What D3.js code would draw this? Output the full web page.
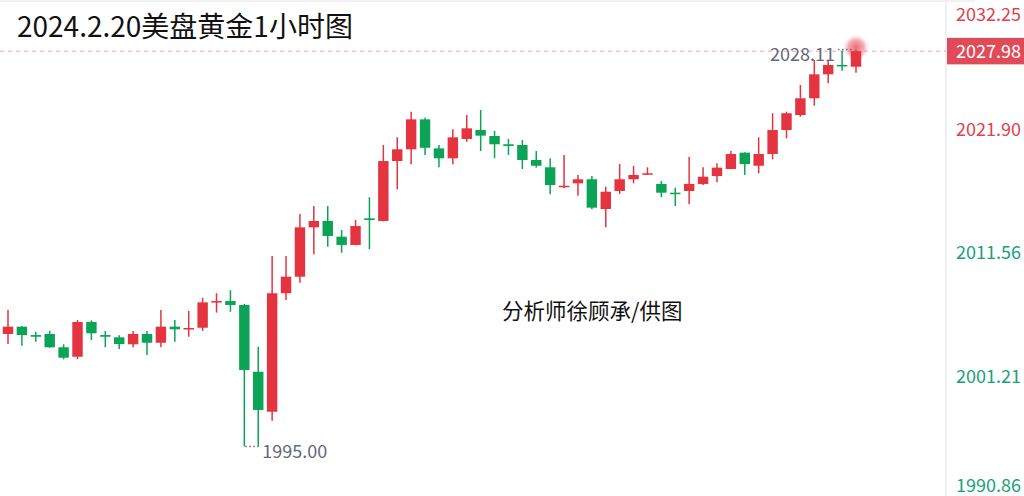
<!DOCTYPE html>
<html><head><meta charset="utf-8">
<script src="https://cdn.jsdelivr.net/npm/d3@7/dist/d3.min.js"></script>
<style>
html,body{margin:0;padding:0;background:#fff;overflow:hidden;}
svg{display:block;}
</style></head>
<body>
<svg id="chart" width="1024" height="496"></svg>
<script>
// ---- Data (1-hour candles) ----
const opens  = [2003.71,2004.38,2004.99,2004.29,2004.38,2003.27,2002.48,2005.38,2004.29,2004.10,2003.52,2004.38,2003.65,2004.99,2004.77,2004.90,2007.00,2007.13,2006.80,2001.23,1997.89,2007.78,2009.16,2013.28,2013.81,2012.50,2011.81,2014.03,2013.81,2018.81,2019.79,2022.29,2019.87,2019.04,2020.65,2021.40,2020.90,2020.21,2020.15,2018.90,2018.29,2016.65,2016.95,2017.29,2014.81,2016.31,2017.29,2017.67,2016.90,2016.17,2016.31,2016.90,2017.56,2018.15,2019.51,2018.42,2019.40,2021.40,2022.65,2024.05,2026.05,2026.83,2026.68];
const highs  = [2004.96,2006.38,2005.05,2004.57,2004.63,2003.52,2005.55,2005.52,2004.63,2004.27,2004.63,2004.63,2006.38,2005.55,2006.30,2007.41,2007.78,2008.03,2006.88,2003.32,2010.89,2010.89,2014.39,2015.06,2015.06,2013.06,2013.89,2015.79,2020.15,2020.79,2022.93,2022.43,2020.15,2021.46,2022.65,2023.07,2021.32,2020.65,2020.57,2019.65,2019.04,2019.32,2017.65,2017.56,2016.67,2018.56,2018.40,2018.29,2017.15,2016.59,2019.17,2018.29,2018.62,2019.65,2019.55,2020.79,2022.80,2022.93,2025.16,2027.24,2027.18,2028.02,2028.11];
const lows   = [2003.46,2003.54,2003.40,2003.74,2003.22,2002.27,2002.27,2003.88,2003.27,2003.13,2003.27,2002.63,2003.27,2003.74,2004.15,2004.63,2006.16,2006.24,1995.00,1995.05,1997.14,2007.22,2008.66,2011.03,2011.66,2011.16,2011.78,2011.45,2013.78,2016.45,2018.54,2019.32,2018.29,2018.54,2020.43,2019.65,2019.04,2019.32,2018.15,2018.26,2016.04,2016.54,2015.92,2014.78,2013.28,2016.06,2016.95,2017.65,2015.79,2015.06,2015.20,2016.81,2017.04,2018.12,2017.65,2017.79,2018.96,2020.71,2022.51,2023.43,2025.30,2026.35,2026.18];
const closes = [2004.63,2004.99,2004.29,2004.15,2003.27,2002.40,2005.38,2004.44,2004.15,2003.54,2004.38,2003.65,2004.99,2004.77,2004.88,2007.02,2007.13,2006.80,2001.37,1998.04,2007.78,2009.16,2013.28,2013.81,2012.56,2011.81,2013.39,2013.89,2018.81,2019.79,2022.29,2019.92,2019.04,2020.79,2021.54,2020.93,2020.21,2020.07,2018.90,2018.42,2016.81,2016.75,2017.29,2014.92,2016.25,2017.29,2017.65,2017.79,2016.17,2016.06,2016.90,2017.50,2018.26,2019.40,2018.56,2019.40,2021.40,2022.80,2024.05,2026.05,2026.83,2026.74,2027.98];
const axisTicks = [2032.25, 2021.90, 2011.56, 2001.21, 1990.86];
const lastPrice = 2027.98;
const refPrice = 2016.50;   // axis labels above are red, below are green
const titleText = "2024.2.20美盘黄金1小时图";
const watermark = "分析师徐顾承/供图";

// ---- Layout / style ----
const W = 1024, H = 496, plotRight = 946;
const RED = "#e3343f", GREEN = "#0ba456";
const AX_RED = "#e0424f", AX_GREEN = "#19a27a";
const svg = d3.select("#chart");

const candles = opens.map((o, i) => ({i, o, h: highs[i], l: lows[i], c: closes[i]}));

const x = d3.scaleBand()
  .domain(d3.range(candles.length))
  .range([-12.85, 862.95])
  .paddingInner(0.25).paddingOuter(0.125);
const y = d3.scaleLinear().domain([1990.86, 2032.25]).range([H, 0]);

// top band
svg.append("rect").attr("x", 0).attr("y", 0).attr("width", 975).attr("height", 2).attr("fill", "#f1f1f3");

// axis separator
svg.append("line").attr("x1", plotRight).attr("x2", plotRight).attr("y1", 0).attr("y2", H)
  .attr("stroke", "#ebebf0").attr("stroke-width", 1.5);

// last price dashed line
svg.append("line").attr("x1", 0).attr("x2", plotRight).attr("y1", y(lastPrice)).attr("y2", y(lastPrice))
  .attr("stroke", "#f3a6ad").attr("stroke-width", 1).attr("stroke-dasharray", "4,4");

// title
svg.append("text").attr("x", 17).attr("y", 37)
  .attr("font-family", "'Noto Sans CJK SC', 'Noto Sans', sans-serif")
  .attr("font-size", 28).attr("fill", "#111").text(titleText);

// watermark
svg.append("text").attr("x", 502).attr("y", 319)
  .attr("font-family", "'Noto Sans CJK SC', sans-serif")
  .attr("font-size", 21.5).attr("fill", "#111").text(watermark);

// glow at last candle
const defs = svg.append("defs");
const rg = defs.append("radialGradient").attr("id", "glow");
rg.append("stop").attr("offset", "0%").attr("stop-color", "#e8505e").attr("stop-opacity", 0.85);
rg.append("stop").attr("offset", "60%").attr("stop-color", "#ee7480").attr("stop-opacity", 0.6);
rg.append("stop").attr("offset", "100%").attr("stop-color", "#f7b7bd").attr("stop-opacity", 0);
const lastC = candles[candles.length - 1];
svg.append("circle").attr("cx", x(lastC.i) + x.bandwidth() / 2).attr("cy", y(lastC.h) - 2)
  .attr("r", 13).attr("fill", "url(#glow)");

// candles
const g = svg.append("g");
const cg = g.selectAll("g.c").data(candles).join("g").attr("class", "c");
cg.append("line")
  .attr("x1", d => x(d.i) + x.bandwidth() / 2).attr("x2", d => x(d.i) + x.bandwidth() / 2)
  .attr("y1", d => y(d.h)).attr("y2", d => y(d.l))
  .attr("stroke", d => d.c >= d.o ? RED : GREEN).attr("stroke-width", 1.5);
cg.append("rect")
  .attr("x", d => x(d.i)).attr("width", x.bandwidth())
  .attr("y", d => y(Math.max(d.o, d.c)))
  .attr("height", d => Math.max(1.5, Math.abs(y(d.o) - y(d.c))))
  .attr("fill", d => d.c >= d.o ? RED : GREEN);

// high / low markers
const labelFont = "'Noto Sans CJK SC', 'Noto Sans', sans-serif";
const hiIdx = d3.maxIndex(highs), loIdx = d3.minIndex(lows);
const hx = x(hiIdx) + x.bandwidth() / 2, hy = y(highs[hiIdx]);
svg.append("line").attr("x1", hx - 18).attr("x2", hx - 3).attr("y1", hy).attr("y2", hy)
  .attr("stroke", "#666d7a").attr("stroke-width", 1.5).attr("stroke-dasharray", "1.5,2.5");
svg.append("text").attr("x", hx - 21).attr("y", hy + 11.5).attr("text-anchor", "end")
  .attr("font-family", labelFont).attr("font-size", 18).attr("fill", "#636a78")
  .text(highs[hiIdx].toFixed(2));
const lx = x(loIdx) + x.bandwidth() / 2, ly = y(lows[loIdx]);
svg.append("line").attr("x1", lx + 1).attr("x2", lx + 16).attr("y1", ly).attr("y2", ly)
  .attr("stroke", "#666d7a").attr("stroke-width", 1.5).attr("stroke-dasharray", "1.5,2.5");
svg.append("text").attr("x", lx + 18).attr("y", ly + 11.5)
  .attr("font-family", labelFont).attr("font-size", 18).attr("fill", "#636a78")
  .text(lows[loIdx].toFixed(2));

// right axis
const axis = d3.axisRight(y).tickValues(axisTicks).tickSize(0).tickFormat(d3.format(".2f"));
const ag = svg.append("g").attr("transform", `translate(${plotRight},0)`).call(axis);
ag.select(".domain").remove();
ag.selectAll(".tick text")
  .attr("x", 10)
  .attr("dy", null)
  .attr("y", d => { const yy = y(d); const c = Math.min(485, Math.max(13.5, yy + 4.5)); return c - yy + 6.5; })
  .attr("font-family", labelFont).attr("font-size", 18)
  .attr("fill", d => d > refPrice ? AX_RED : AX_GREEN);

// last price box
const ly2 = y(lastPrice);
svg.append("rect").attr("x", plotRight + 1).attr("y", ly2 - 13.3).attr("width", W - plotRight - 1).attr("height", 26.5)
  .attr("fill", "#e04b5a");
svg.append("text").attr("x", plotRight + 10).attr("y", ly2 + 6.5)
  .attr("font-family", labelFont).attr("font-size", 18).attr("fill", "#fff")
  .text(lastPrice.toFixed(2));
</script>
</body></html>
